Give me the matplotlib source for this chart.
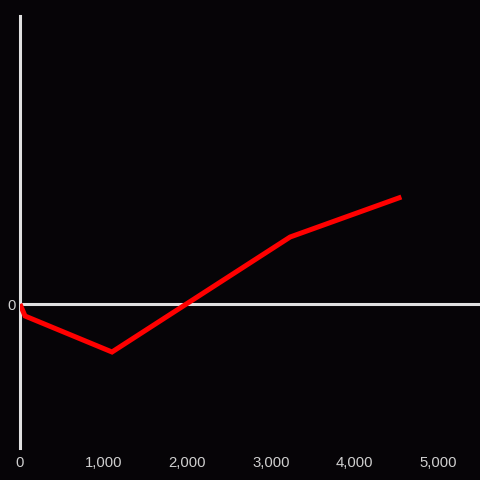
import matplotlib
matplotlib.use("Agg")
import matplotlib.pyplot as plt

x_vals = [0, 60, 1100, 3230, 4560]
y_vals = [0, -12, -48, 67, 107]
x_ticks = [0, 1000, 2000, 3000, 4000, 5000]
x_tick_labels = ["0", "1,000", "2,000", "3,000", "4,000", "5,000"]

bg = "#060407"
axis_col = "#e0e0e0"
text_col = "#cfcfcf"

plt.rcParams['font.family'] = ['Liberation Sans', 'DejaVu Sans']

fig = plt.figure(figsize=(4.8, 4.8), dpi=100, facecolor=bg)
ax = fig.add_axes([20/480, (480-448)/480, 460/480, 432/480])
ax.set_facecolor(bg)

ax.set_xlim(0, 5500)
ax.set_ylim(-144, 288)

for s in ['top', 'right', 'bottom']:
    ax.spines[s].set_visible(False)
ax.spines['left'].set_color(axis_col)
ax.spines['left'].set_linewidth(2.2)

ax.axhline(0, color=axis_col, linewidth=2.2, zorder=1)

ax.plot(x_vals, y_vals, color="#ff0000", linewidth=3.6, solid_joinstyle='miter', solid_capstyle='butt', zorder=3)

ax.set_xticks(x_ticks)
ax.set_xticklabels(x_tick_labels)
ax.set_yticks([0])
ax.set_yticklabels(["0"])
ax.tick_params(axis='x', length=0, pad=6, labelsize=10.7, colors=text_col)
ax.tick_params(axis='y', length=0, pad=3, labelsize=10.7, colors=text_col)

fig.savefig("out.png", dpi=100, facecolor=bg)
